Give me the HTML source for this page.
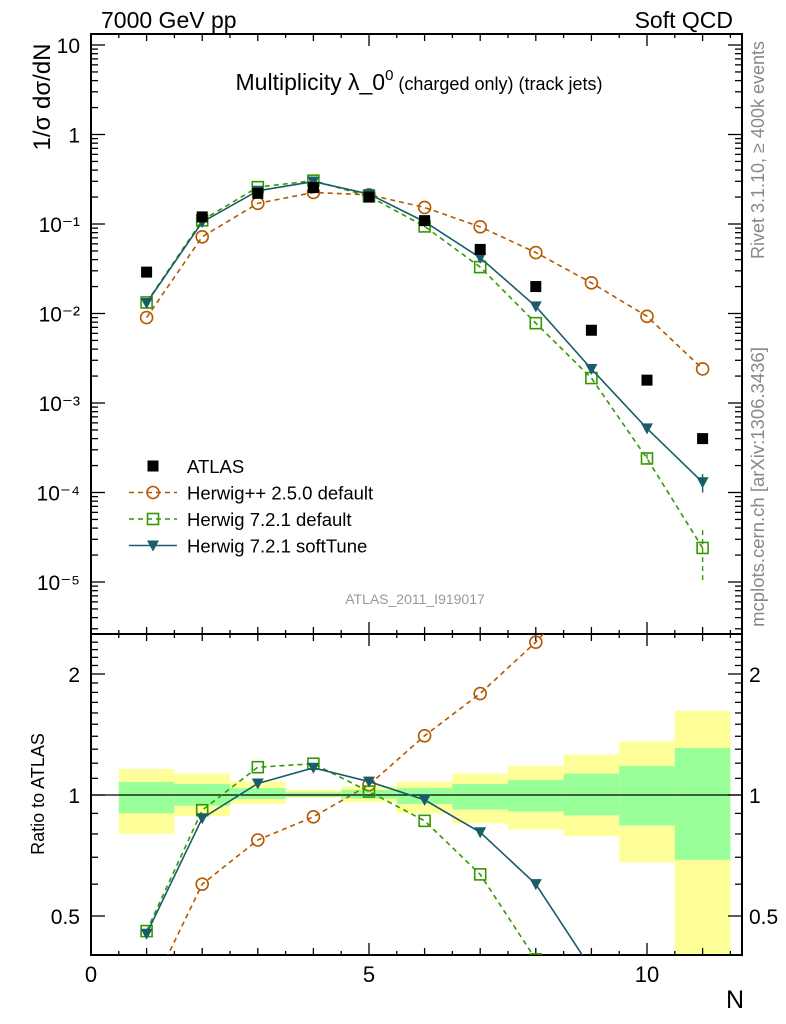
<!DOCTYPE html>
<html><head><meta charset="utf-8"><style>
html,body{margin:0;padding:0;background:#fff;overflow:hidden;width:786px;height:1024px;}
svg{display:block;font-family:"Liberation Sans",sans-serif;}
</style></head><body>
<svg id="c" width="786" height="1024" viewBox="0 0 786 1024">
<g id="bands"></g>
<g id="axes"></g>
<g id="series"></g>
<text x="101" y="28" font-size="23">7000 GeV pp</text>
<text x="733" y="28" font-size="23" text-anchor="end">Soft QCD</text>
<text x="419" y="90" font-size="23" text-anchor="middle">Multiplicity λ_0<tspan font-size="15" dy="-10">0</tspan><tspan font-size="18" dy="10"> (charged only) (track jets)</tspan></text>
<text transform="translate(50,97) rotate(-90)" font-size="24" text-anchor="middle">1/σ dσ/dN</text>
<text transform="translate(44,794) rotate(-90)" font-size="18" text-anchor="middle">Ratio to ATLAS</text>
<text x="744" y="1008" font-size="25" text-anchor="end">N</text>
<text x="415" y="604" font-size="14" fill="#999" text-anchor="middle">ATLAS_2011_I919017</text>
<text transform="translate(764,150) rotate(-90)" font-size="18" fill="#888" text-anchor="middle">Rivet 3.1.10, ≥ 400k events</text>
<text transform="translate(764,487) rotate(-90)" font-size="18.5" fill="#888" text-anchor="middle">mcplots.cern.ch [arXiv:1306.3436]</text>
<g id="legend"></g>
</svg>
<script>
const N = [1,2,3,4,5,6,7,8,9,10,11];
const atlas = [0.029,0.12,0.22,0.255,0.2,0.109,0.052,0.02,0.0065,0.0018,0.0004];
const hpp = [0.009,0.072,0.17,0.225,0.212,0.153,0.093,0.048,0.022,0.0093,0.0024];
const h7def = [0.0133,0.11,0.258,0.305,0.204,0.094,0.033,0.0078,0.0019,0.00024,0.000024];
const h7soft = [0.0131,0.105,0.235,0.298,0.216,0.106,0.042,0.012,0.0024,0.00052,0.00013];
const h7defErr = [0,0,0,0,0,0,0,0,0,0.00003,0.000014];
const h7softErr = [0,0,0,0,0,0,0,0,0,0.00006,0.00003];
const bandYlo = [0.80,0.886,0.95,0.985,0.96,0.90,0.85,0.82,0.79,0.68,0.40];
const bandYhi = [1.16,1.13,1.08,1.03,1.05,1.08,1.13,1.18,1.26,1.36,1.62];
const bandGlo = [0.90,0.94,0.977,0.99,0.98,0.95,0.92,0.91,0.89,0.84,0.69];
const bandGhi = [1.077,1.065,1.04,1.015,1.03,1.04,1.065,1.09,1.13,1.18,1.31];
const mainTicks = [10,1,0.1,0.01,0.001,0.0001,0.00001];
const mainTickLabels = ["10","1","10⁻¹","10⁻²","10⁻³","10⁻⁴","10⁻⁵"];
const ratioTicks = [2,1,0.5];
const ratioTickLabels = ["2","1","0.5"];
const xTicks = [0,5,10];

const NS="http://www.w3.org/2000/svg";
const L=91,R=742,T=34,M=634,B=955;
const X=v=>L+v*55.6;
const Y=v=>45+(1-Math.log10(v))*89.5;
const RY=v=>795-Math.log2(v)*121;
const rMin=0.402,rMax=2.52;
function el(tag,attrs,parent){const e=document.createElementNS(NS,tag);for(const k in attrs)e.setAttribute(k,attrs[k]);parent.appendChild(e);return e;}
const bands=document.getElementById('bands'),axes=document.getElementById('axes'),ser=document.getElementById('series'),leg=document.getElementById('legend');
const cl=v=>Math.max(rMin,Math.min(rMax,v));
N.forEach((n,i)=>{
 const x0=X(n-0.5),x1=X(n+0.5);
 const a=el('rect',{x:x0,y:RY(cl(bandYhi[i])),width:x1-x0,height:RY(cl(bandYlo[i]))-RY(cl(bandYhi[i])),fill:'#ffff99'},bands);
 
 
 const g=el('rect',{x:x0,y:RY(bandGhi[i]),width:x1-x0,height:RY(bandGlo[i])-RY(bandGhi[i]),fill:'#99ff99'},bands);
 
 
});
el('rect',{x:L,y:T,width:R-L,height:M-T,fill:'none',stroke:'#000','stroke-width':2},axes);
el('rect',{x:L,y:M,width:R-L,height:B-M,fill:'none',stroke:'#000','stroke-width':2},axes);
el('line',{x1:L,x2:R,y1:RY(1),y2:RY(1),stroke:'#000','stroke-width':1.2},axes);
for(let v=0;v<=11.6;v+=0.5){
 const maj=Math.abs(v%5)<1e-9, int=Math.abs(v%1)<1e-9;
 const len=maj?12:(int?7:4);
 [T,M].forEach(y=>el('line',{x1:X(v),x2:X(v),y1:y,y2:y+len,stroke:'#000','stroke-width':1.3},axes));
 [M,B].forEach(y=>el('line',{x1:X(v),x2:X(v),y1:y,y2:y-len,stroke:'#000','stroke-width':1.3},axes));
}
xTicks.forEach(v=>{const t=el('text',{x:X(v),y:982,'font-size':22,'text-anchor':'middle'},axes);t.textContent=v;});
for(let d=-6;d<=1;d++){for(let m=1;m<=9;m++){const v=m*Math.pow(10,d);const y=Y(v);if(y<T||y>M)continue;const len=m==1?14:7;
 el('line',{x1:L,x2:L+len,y1:y,y2:y,stroke:'#000','stroke-width':1.3},axes);el('line',{x1:R,x2:R-len,y1:y,y2:y,stroke:'#000','stroke-width':1.3},axes);}}
mainTicks.forEach((v,i)=>{const t=el('text',{x:L-11,y:Y(v)+8,'font-size':21,'text-anchor':'end'},axes);t.textContent=mainTickLabels[i];});
for(let v=0.5;v<=2.5;v+=0.1){const y=RY(v);if(y<M||y>B)continue;const maj=[0.5,1,2].some(q=>Math.abs(q-v)<1e-6);const len=maj?14:7;
 el('line',{x1:L,x2:L+len,y1:y,y2:y,stroke:'#000','stroke-width':1.3},axes);el('line',{x1:R,x2:R-len,y1:y,y2:y,stroke:'#000','stroke-width':1.3},axes);}
ratioTicks.forEach((v,i)=>{
 const t=el('text',{x:L-11,y:RY(v)+8,'font-size':21,'text-anchor':'end'},axes);t.textContent=ratioTickLabels[i];
 const t2=el('text',{x:R+7,y:RY(v)+8,'font-size':21},axes);t2.textContent=ratioTickLabels[i];
});
const defs=el('defs',{},document.getElementById('c'));
const cp=el('clipPath',{id:'rc'},defs);el('rect',{x:L,y:M,width:R-L,height:B-M},cp);
const cm=el('clipPath',{id:'mc'},defs);el('rect',{x:L,y:T,width:R-L,height:M-T},cm);
function marker(kind,x,y,col,g){
 let e;
 if(kind=='sq') e=el('rect',{x:x-5.5,y:y-5.5,width:11,height:11,fill:'#000'},g);
 else if(kind=='circ') e=el('circle',{cx:x,cy:y,r:6,fill:'none',stroke:col,'stroke-width':1.6},g);
 else if(kind=='osq') e=el('rect',{x:x-5.5,y:y-5.5,width:11,height:11,fill:'none',stroke:col,'stroke-width':1.6},g);
 else e=el('polygon',{points:`${x-6},${y-5} ${x+6},${y-5} ${x},${y+6}`,fill:col},g);
 
 
}
const defsS=[
 {name:'herwigpp',vals:hpp,col:'#b35900',dash:'5,4',kind:'circ',err:null},
 {name:'herwig7-default',vals:h7def,col:'#339900',dash:'5,4',kind:'osq',err:h7defErr},
 {name:'herwig7-softtune',vals:h7soft,col:'#1a5c6b',dash:'',kind:'tri',err:h7softErr}
];
defsS.forEach(s=>{
 const gm=el('g',{'clip-path':'url(#mc)'},ser);
 
 
 el('polyline',{points:N.map((n,i)=>X(n)+','+Y(s.vals[i])).join(' '),fill:'none',stroke:s.col,'stroke-width':1.6,'stroke-dasharray':s.dash},gm);
 N.forEach((n,i)=>{ if(s.err&&s.err[i]>0){el('line',{x1:X(n),x2:X(n),y1:Y(s.vals[i]+s.err[i]),y2:Y(Math.max(s.vals[i]-s.err[i],1e-7)),stroke:s.col,'stroke-width':1.4,'stroke-dasharray':s.dash},gm);}
  marker(s.kind,X(n),Y(s.vals[i]),s.col,gm);});
 const gr=el('g',{'clip-path':'url(#rc)'},ser);
 
 
 const rv=s.vals.map((v,i)=>v/atlas[i]);
 el('polyline',{points:N.map((n,i)=>X(n)+','+RY(Math.max(rv[i],0.05))).join(' '),fill:'none',stroke:s.col,'stroke-width':1.6,'stroke-dasharray':s.dash},gr);
 N.forEach((n,i)=>marker(s.kind,X(n),RY(Math.max(rv[i],0.05)),s.col,gr));
});
const ga=el('g',{},ser);


N.forEach((n,i)=>marker('sq',X(n),Y(atlas[i]),'#000',ga));
const items=[['ATLAS','sq','#000',null],['Herwig++ 2.5.0 default','circ','#b35900','5,4'],['Herwig 7.2.1 default','osq','#339900','5,4'],['Herwig 7.2.1 softTune','tri','#1a5c6b','']];
items.forEach((it,i)=>{const y=466+i*26.5;
 const g=el('g',{},leg);
 
 
 if(it[3]!==null) el('line',{x1:129,x2:177,y1:y,y2:y,stroke:it[2],'stroke-width':1.6,'stroke-dasharray':it[3]},g);
 marker(it[1],153,y,it[2],g);
 const t=el('text',{x:187,y:y+7,'font-size':18.5},g);t.textContent=it[0];
});
</script>
</body></html>
